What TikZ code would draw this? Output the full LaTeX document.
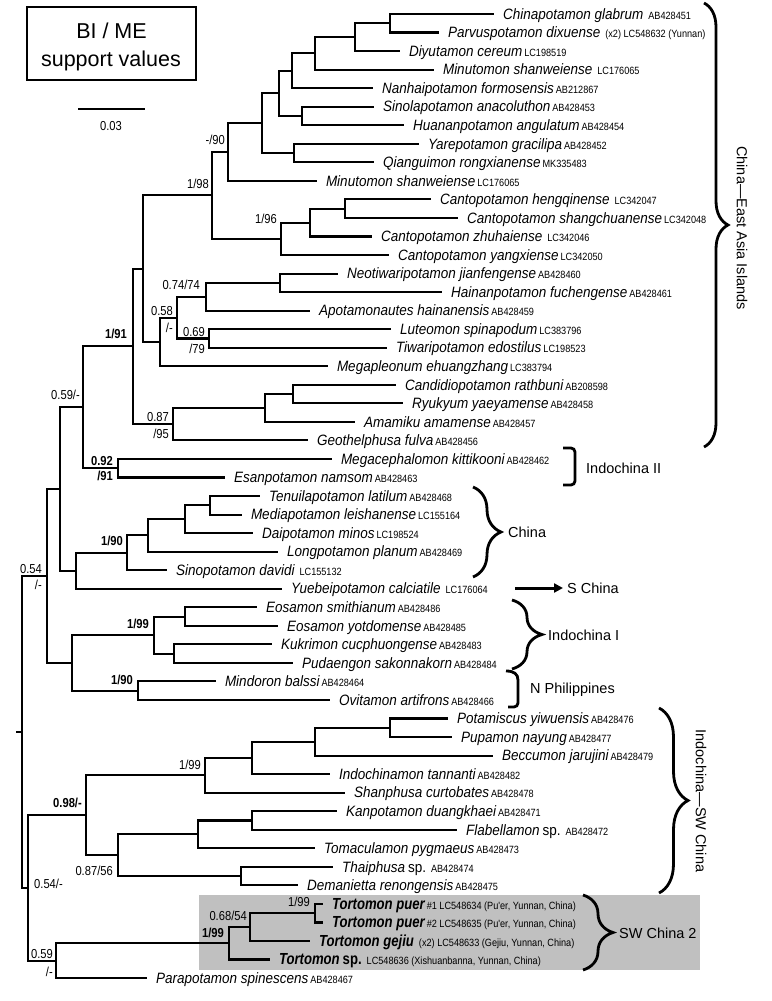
\documentclass[tikz,border=0pt]{standalone}
\usepackage{fontspec}
\setmainfont{Liberation Sans}
\newfontfamily\fsp[FakeStretch=0.9]{Liberation Sans}
\newfontfamily\fac[FakeStretch=0.87]{Liberation Sans}
\newfontfamily\fsv[FakeStretch=0.86]{Liberation Sans}
\newfontfamily\ftor[FakeStretch=0.82]{Liberation Sans}
\usetikzlibrary{arrows.meta,decorations.pathreplacing}
\definecolor{boxgray}{RGB}{192,192,192}

\newcommand{\Sn}[1]{{\fsp\fontsize{15}{15}\selectfont\itshape #1}}
\newcommand{\Su}[1]{{\fsp\fontsize{15}{15}\selectfont #1}}
\newcommand{\Ac}[1]{\hspace{2pt}{\fac\fontsize{10.5}{10.5}\selectfont #1}}
\newcommand{\AcW}[1]{\hspace{5pt}{\fac\fontsize{10.5}{10.5}\selectfont #1}}
\newcommand{\Tt}[1]{{\ftor\fontsize{16}{16}\selectfont\bfseries\itshape #1}}
\newcommand{\Tb}[1]{{\ftor\fontsize{16}{16}\selectfont\bfseries #1}}
\newcommand{\leaf}[4]{\coordinate (#1) at (#2,#3);\node[leaflab] (#1t) at ([xshift=9pt,yshift=-5.2pt]#1) {#4};}

\tikzset{
  branch/.style={line width=2.1pt, line join=miter},
  leaflab/.style={anchor=base west, inner sep=0pt, outer sep=0pt},
  sv/.style={inner sep=0pt, font=\fsv\fontsize{13}{13}\selectfont},
  svb/.style={inner sep=0pt, font=\fsv\fontsize{13}{13}\selectfont\bfseries},
  region/.style={inner sep=0pt, font=\fontsize{14.5}{14.5}\selectfont},
  bracestyle/.style={line width=2.8pt, decorate},
  bracketstyle/.style={line width=2.8pt, rounded corners=4pt},
}

\begin{document}
\begin{tikzpicture}[x=1pt,y=-1pt]
\useasboundingbox (0,0) rectangle (771,1001);

% grey highlight
\fill[boxgray] (199,895) rectangle (700,970);

% legend
\node[draw, line width=2.2pt, minimum width=169pt, minimum height=73pt, inner sep=0pt] (legend) at (111.5,43.5) {};
\node[anchor=base, inner sep=0pt, font=\fontsize{21.5}{21.5}\selectfont] (leg1) at (111.5,38.5) {BI / ME};
\node[anchor=base, inner sep=0pt, font=\fontsize{21.5}{21.5}\selectfont] (leg2) at (111,66.5) {support values};
\coordinate (sb1) at (78,109);
\coordinate (sb2) at (145,109);
\draw[line width=2pt] (sb1) -- (sb2);
\node[sv, anchor=base] (sblab) at (111,130) {0.03};

% leaves
\leaf{L1}{494}{14.0}{\Sn{Chinapotamon glabrum}\AcW{AB428451}}
\leaf{L2}{439}{32.5}{\Sn{Parvuspotamon dixuense}\AcW{(x2) LC548632 (Yunnan)}}
\leaf{L3}{400}{51.1}{\Sn{Diyutamon cereum}\Ac{LC198519}}
\leaf{L4}{434}{69.6}{\Sn{Minutomon shanweiense}\AcW{LC176065}}
\leaf{L5}{373}{88.2}{\Sn{Nanhaipotamon formosensis}\Ac{AB212867}}
\leaf{L6}{374}{106.7}{\Sn{Sinolapotamon anacoluthon}\Ac{AB428453}}
\leaf{L7}{404}{125.2}{\Sn{Huananpotamon angulatum}\Ac{AB428454}}
\leaf{L8}{419}{143.8}{\Sn{Yarepotamon gracilipa}\Ac{AB428452}}
\leaf{L9}{374}{162.3}{\Sn{Qianguimon rongxianense}\Ac{MK335483}}
\leaf{L10}{317}{180.9}{\Sn{Minutomon shanweiense}\Ac{LC176065}}
\leaf{L11}{431}{199.4}{\Sn{Cantopotamon hengqinense}\AcW{LC342047}}
\leaf{L12}{458}{217.9}{\Sn{Cantopotamon shangchuanense}\Ac{LC342048}}
\leaf{L13}{372}{236.5}{\Sn{Cantopotamon zhuhaiense}\AcW{LC342046}}
\leaf{L14}{389}{255.0}{\Sn{Cantopotamon yangxiense}\Ac{LC342050}}
\leaf{L15}{338}{273.6}{\Sn{Neotiwaripotamon jianfengense}\Ac{AB428460}}
\leaf{L16}{442}{292.1}{\Sn{Hainanpotamon fuchengense}\Ac{AB428461}}
\leaf{L17}{310}{310.6}{\Sn{Apotamonautes hainanensis}\Ac{AB428459}}
\leaf{L18}{391}{329.2}{\Sn{Luteomon spinapodum}\Ac{LC383796}}
\leaf{L19}{387}{347.7}{\Sn{Tiwaripotamon edostilus}\Ac{LC198523}}
\leaf{L20}{328}{366.3}{\Sn{Megapleonum ehuangzhang}\Ac{LC383794}}
\leaf{L21}{396}{384.8}{\Sn{Candidiopotamon rathbuni}\Ac{AB208598}}
\leaf{L22}{403}{403.3}{\Sn{Ryukyum yaeyamense}\Ac{AB428458}}
\leaf{L23}{355}{421.9}{\Sn{Amamiku amamense}\Ac{AB428457}}
\leaf{L24}{308}{440.4}{\Sn{Geothelphusa fulva}\Ac{AB428456}}
\leaf{L25}{332}{459.0}{\Sn{Megacephalomon kittikooni}\Ac{AB428462}}
\leaf{L26}{225}{477.5}{\Sn{Esanpotamon namsom}\Ac{AB428463}}
\leaf{L27}{260}{496.0}{\Sn{Tenuilapotamon latilum}\Ac{AB428468}}
\leaf{L28}{242}{514.6}{\Sn{Mediapotamon leishanense}\Ac{LC155164}}
\leaf{L29}{253}{533.1}{\Sn{Daipotamon minos}\Ac{LC198524}}
\leaf{L30}{278}{551.7}{\Sn{Longpotamon planum}\Ac{AB428469}}
\leaf{L31}{167}{570.2}{\Sn{Sinopotamon davidi}\AcW{LC155132}}
\leaf{L32}{282}{588.7}{\Sn{Yuebeipotamon calciatile}\AcW{LC176064}}
\leaf{L33}{257}{607.3}{\Sn{Eosamon smithianum}\Ac{AB428486}}
\leaf{L34}{278}{625.8}{\Sn{Eosamon yotdomense}\Ac{AB428485}}
\leaf{L35}{272}{644.4}{\Sn{Kukrimon cucphuongense}\Ac{AB428483}}
\leaf{L36}{293}{662.9}{\Sn{Pudaengon sakonnakorn}\Ac{AB428484}}
\leaf{L37}{216}{681.4}{\Sn{Mindoron balssi}\Ac{AB428464}}
\leaf{L38}{330}{700.0}{\Sn{Ovitamon artifrons}\Ac{AB428466}}
\leaf{L39}{448}{718.5}{\Sn{Potamiscus yiwuensis}\Ac{AB428476}}
\leaf{L40}{452}{737.1}{\Sn{Pupamon nayung}\Ac{AB428477}}
\leaf{L41}{493}{755.6}{\Sn{Beccumon jarujini}\Ac{AB428479}}
\leaf{L42}{330}{774.1}{\Sn{Indochinamon tannanti}\Ac{AB428482}}
\leaf{L43}{345}{792.7}{\Sn{Shanphusa curtobates}\Ac{AB428478}}
\leaf{L44}{337}{811.2}{\Sn{Kanpotamon duangkhaei}\Ac{AB428471}}
\leaf{L45}{457}{829.8}{\Sn{Flabellamon}\hspace{3pt}\Su{sp.}\AcW{AB428472}}
\leaf{L46}{315}{848.3}{\Sn{Tomaculamon pygmaeus}\Ac{AB428473}}
\leaf{L47}{333}{866.8}{\Sn{Thaiphusa}\hspace{3pt}\Su{sp.}\AcW{AB428474}}
\leaf{L48}{298}{885.4}{\Sn{Demanietta renongensis}\Ac{AB428475}}
\leaf{L49}{323}{903.9}{\Tt{Tortomon puer}\Ac{\#1 LC548634 (Pu'er, Yunnan, China)}}
\leaf{L50}{323}{922.5}{\Tt{Tortomon puer}\Ac{\#2 LC548635 (Pu'er, Yunnan, China)}}
\leaf{L51}{310}{941.0}{\Tt{Tortomon gejiu}\AcW{(x2) LC548633 (Gejiu, Yunnan, China)}}
\leaf{L52}{270}{959.5}{\Tt{Tortomon}\hspace{3pt}\Tb{sp.}\AcW{LC548636 (Xishuanbanna, Yunnan, China)}}
\leaf{L53}{147}{978.1}{\Sn{Parapotamon spinescens}\Ac{AB428467}}

% internal nodes
\coordinate (A1) at (390,23.25);
\coordinate (A2) at (355,37.2);
\coordinate (A3) at (315,53.4);
\coordinate (A4) at (292,70.8);
\coordinate (A5) at (302,116.0);
\coordinate (A6) at (279,93.4);
\coordinate (A7) at (294,153.0);
\coordinate (A8) at (262,123.2);
\coordinate (A9) at (228,152.0);
\coordinate (C1) at (345,208.7);
\coordinate (C2) at (310,222.6);
\coordinate (C3) at (281,238.8);
\coordinate (B1) at (212,195.4);
\coordinate (D1) at (280,282.8);
\coordinate (D2) at (206,296.7);
\coordinate (D3) at (209,338.5);
\coordinate (D4) at (177,317.6);
\coordinate (D5) at (160,341.9);
\coordinate (B2) at (143,268.7);
\coordinate (E1) at (293,394.1);
\coordinate (E2) at (265,408.0);
\coordinate (E3) at (173,424.2);
\coordinate (B3) at (133,346.4);
\coordinate (F1) at (118,468.3);
\coordinate (B4) at (83,407.3);
\coordinate (G1) at (210,505.3);
\coordinate (G2) at (185,519.2);
\coordinate (G3) at (148,535.4);
\coordinate (G4) at (127,552.8);
\coordinate (G5) at (76,570.8);
\coordinate (B5) at (60,489.0);
\coordinate (H1) at (185,616.6);
\coordinate (H2) at (174,653.6);
\coordinate (H3) at (154,635.1);
\coordinate (H4) at (138,690.7);
\coordinate (H5) at (72,662.9);
\coordinate (B6) at (47,576.0);
\coordinate (I1) at (390,727.8);
\coordinate (I2) at (315,741.7);
\coordinate (I3) at (252,757.9);
\coordinate (I4) at (205,775.3);
\coordinate (J1) at (252,820.5);
\coordinate (J2) at (198,834.4);
\coordinate (J3) at (241,876.1);
\coordinate (J4) at (118,855.3);
\coordinate (K1) at (86,815.3);
\coordinate (T1) at (315,913.2);
\coordinate (T2) at (250,927.1);
\coordinate (T3) at (229,943.3);
\coordinate (T4) at (56,960.7);
\coordinate (K2) at (28,888.0);
\coordinate (R) at (22,732.0);
\coordinate (RS) at (16,732.0);

\foreach \p/\c in {A1/L1,A1/L2,A2/A1,A2/L3,A3/A2,A3/L4,A4/A3,A4/L5,A5/L6,A5/L7,A6/A4,A6/A5,A7/L8,A7/L9,A8/A6,A8/A7,A9/A8,A9/L10,
  C1/L11,C1/L12,C2/C1,C2/L13,C3/C2,C3/L14,B1/A9,B1/C3,D1/L15,D1/L16,D2/D1,D2/L17,D3/L18,D3/L19,D4/D2,D4/D3,D5/D4,D5/L20,
  B2/B1,B2/D5,E1/L21,E1/L22,E2/E1,E2/L23,E3/E2,E3/L24,B3/B2,B3/E3,F1/L25,F1/L26,B4/B3,B4/F1,
  G1/L27,G1/L28,G2/G1,G2/L29,G3/G2,G3/L30,G4/G3,G4/L31,G5/G4,G5/L32,B5/B4,B5/G5,
  H1/L33,H1/L34,H2/L35,H2/L36,H3/H1,H3/H2,H4/L37,H4/L38,H5/H3,H5/H4,B6/B5,B6/H5,
  I1/L39,I1/L40,I2/I1,I2/L41,I3/I2,I3/L42,I4/I3,I4/L43,J1/L44,J1/L45,J2/J1,J2/L46,J3/L47,J3/L48,J4/J2,J4/J3,K1/I4,K1/J4,
  T1/L49,T1/L50,T2/T1,T2/L51,T3/T2,T3/L52,T4/T3,T4/L53,K2/K1,K2/T4,R/B6,R/K2}
  \draw[branch] (\p) |- (\c);
\draw[branch] (RS) -- (R);

% support values
\node[sv, anchor=base east] (sA9) at (225,144) {-/90};
\node[sv, anchor=base east] (sB1) at (209,188) {1/98};
\node[sv, anchor=base east] (sC3) at (277,223) {1/96};
\node[sv, anchor=base east] (sD2) at (200,289) {0.74/74};
\node[sv, anchor=base east] (sD4a) at (173,315) {0.58};
\node[sv, anchor=base east] (sD4b) at (173,332) {/-};
\node[sv, anchor=base east] (sD3a) at (205,336) {0.69};
\node[sv, anchor=base east] (sD3b) at (205,353) {/79};
\node[sv, anchor=base east] (sE3a) at (169,421) {0.87};
\node[sv, anchor=base east] (sE3b) at (169,438) {/95};
\node[svb, anchor=base east] (sB3) at (127,338) {1/91};
\node[svb, anchor=base east] (sF1a) at (113,465) {0.92};
\node[svb, anchor=base east] (sF1b) at (113,480) {/91};
\node[sv, anchor=base east] (sB4) at (80,399) {0.59/-};
\node[svb, anchor=base east] (sG4) at (123,545) {1/90};
\node[sv, anchor=base east] (sB6a) at (42,573) {0.54};
\node[sv, anchor=base east] (sB6b) at (42,589) {/-};
\node[svb, anchor=base east] (sH3) at (149,628) {1/99};
\node[svb, anchor=base east] (sH4) at (133,684) {1/90};
\node[sv, anchor=base east] (sI4) at (201,769) {1/99};
\node[svb, anchor=base east] (sK1) at (82,807) {0.98/-};
\node[sv, anchor=base east] (sJ4) at (113,875) {0.87/56};
\node[sv, anchor=base west] (sK2) at (34,888) {0.54/-};
\node[sv, anchor=base east] (sT4a) at (53,958) {0.59};
\node[sv, anchor=base east] (sT4b) at (53,976) {/-};
\node[svb, anchor=base east] (sT3) at (224,937) {1/99};
\node[sv, anchor=base east] (sT2) at (247,920) {0.68/54};
\node[sv, anchor=base east] (sT1) at (310,906) {1/99};

% region brackets and labels
\draw[bracestyle, decoration={brace, amplitude=24pt}] (704,3) -- (704,447);
\node[region, rotate=-90] (rCEA) at (742,228) {China—East Asia Islands};
\draw[bracketstyle] (563,448) -- (575,448) -- (575,485) -- (563,485);
\node[region, anchor=west] (rI2) at (586,468) {Indochina II};
\draw[bracestyle, decoration={brace, amplitude=28pt}] (473,487) -- (473,577);
\node[region, anchor=west] (rCh) at (508,532) {China};
\coordinate (arrS) at (515,588);
\node[region, anchor=west] (rSC) at (567,588) {S China};
\draw[line width=3pt, -{Triangle[length=9pt,width=9pt]}, shorten >=4pt] (arrS) -- (rSC.west);
\draw[bracestyle, decoration={brace, amplitude=30pt}] (512,600) -- (512,669);
\node[region, anchor=west] (rI1) at (548,635) {Indochina I};
\draw[line width=2.8pt] (506,671) .. controls (514,671) and (518,674) .. (518,680) -- (518,702) [rounded corners=4pt] -- (518,707) -- (508,707);
\node[region, anchor=west] (rNP) at (530,690) {N Philippines};
\draw[bracestyle, decoration={brace, amplitude=29pt}] (659,708) -- (659,893);
\node[region, rotate=-90] (rISW) at (701,801) {Indochina—SW China};
\draw[bracestyle, decoration={brace, amplitude=30pt}] (583,895) -- (583,970);
\node[region, anchor=west] (rSW2) at (619,933) {SW China 2};
\end{tikzpicture}
\end{document}
